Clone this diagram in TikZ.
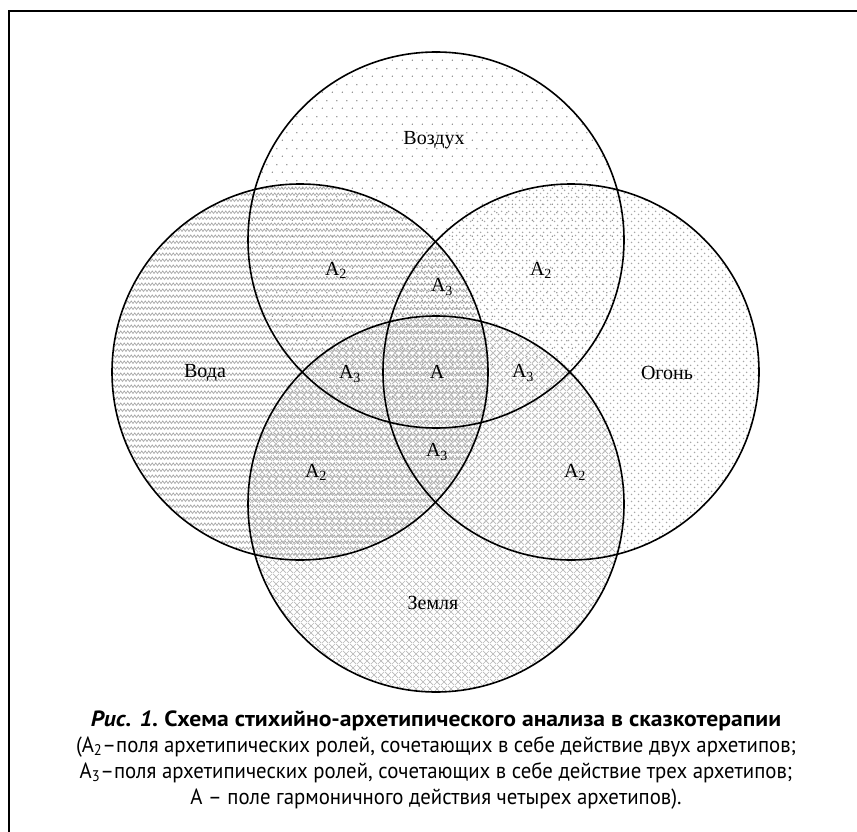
\documentclass[tikz,border=0pt]{standalone}
\usepackage{fontspec}
\setmainfont{Liberation Serif}
\newfontfamily\capfont[FakeStretch=0.945]{PT Sans}
\newfontfamily\capfontb[FakeStretch=1.075]{PT Sans}
\usetikzlibrary{patterns,patterns.meta}
\tikzdeclarepattern{
  name=airdots, type=uncolored,
  bounding box={(0pt,0pt) and (10pt,16pt)},
  tile size={(10pt,16pt)},
  code={\fill (2.5pt,4pt) circle (0.8pt); \fill (7.5pt,12pt) circle (0.8pt);}
}
\tikzdeclarepattern{
  name=firedots, type=uncolored,
  bounding box={(0pt,0pt) and (7pt,7pt)},
  tile size={(7pt,7pt)},
  code={\fill (1.75pt,1.75pt) circle (0.9pt); \fill (5.25pt,5.25pt) circle (0.9pt);}
}
\tikzdeclarepattern{
  name=waves, type=uncolored,
  bounding box={(-1pt,-1pt) and (8pt,7pt)},
  tile size={(7pt,6pt)},
  code={\draw[line width=0.7pt] (0pt,0.5pt) -- (1.75pt,3pt) -- (3.5pt,0.5pt) -- (5.25pt,3pt) -- (7pt,0.5pt);}
}
\tikzdeclarepattern{
  name=xhatch, type=uncolored,
  bounding box={(0pt,0pt) and (7pt,7pt)},
  tile size={(7pt,7pt)},
  code={\draw[line width=0.7pt] (0pt,0pt) -- (7pt,7pt); \draw[line width=0.7pt] (0pt,7pt) -- (7pt,0pt);}
}
\tikzset{
  ring/.style={draw=black, line width=1.6pt},
  lbl/.style={font=\fontsize{20}{22}\selectfont, inner sep=0pt},
  capline/.style={font=\capfont\fontsize{22}{24}\selectfont, inner sep=0pt, anchor=base},
  capbold/.style={font=\capfontb\fontsize{22}{24}\selectfont\bfseries, inner sep=0pt, anchor=base}
}
\begin{document}
\begin{tikzpicture}[x=1pt,y=-1pt]
\useasboundingbox (0,0) rectangle (857,832);
\fill[white] (0,0) rectangle (857,832);
\draw[line width=2pt] (870,11) -- (9,11) -- (9,845);
% circle fills
\fill[pattern=airdots, pattern color=black!50] (436,240) circle (188);
\fill[pattern=waves, pattern color=black!35] (300,372) circle (188);
\fill[pattern=firedots, pattern color=black!35] (571,372) circle (188);
\fill[pattern=xhatch, pattern color=black!28] (436,504) circle (188);
% outlines
\draw[ring] (436,240) circle (188);
\draw[ring] (300,372) circle (188);
\draw[ring] (571,372) circle (188);
\draw[ring] (436,504) circle (188);
% labels
\node[lbl] (air) at (434,140) {Воздух};
\node[lbl] (water) at (205,373) {Вода};
\node[lbl] (fire) at (667,373) {Огонь};
\node[lbl] (earth) at (433,603) {Земля};
\node[lbl] (a2ul) at (336,270) {A\textsubscript{2}};
\node[lbl] (a2ur) at (541,270) {A\textsubscript{2}};
\node[lbl] (a2ll) at (316,472) {A\textsubscript{2}};
\node[lbl] (a2lr) at (575,472) {A\textsubscript{2}};
\node[lbl] (a3t) at (442,287) {A\textsubscript{3}};
\node[lbl] (a3l) at (350,374) {A\textsubscript{3}};
\node[lbl] (a3r) at (523,373) {A\textsubscript{3}};
\node[lbl] (a3b) at (437,452) {A\textsubscript{3}};
\node[lbl] (a4) at (437,372) {A};
% caption
\node[capbold] (c1) at (436,726) {\itshape Рис. 1.\upshape\ Схема стихийно-архетипического анализа в сказкотерапии};
\node[capline] (c2) at (436,752) {(A\textsubscript{2}–поля архетипических ролей, сочетающих в себе действие двух архетипов;};
\node[capline] (c3) at (436,778) {A\textsubscript{3}–поля архетипических ролей, сочетающих в себе действие трех архетипов;};
\node[capline] (c4) at (436,804) {А – поле гармоничного действия четырех архетипов).};
\end{tikzpicture}
\end{document}
